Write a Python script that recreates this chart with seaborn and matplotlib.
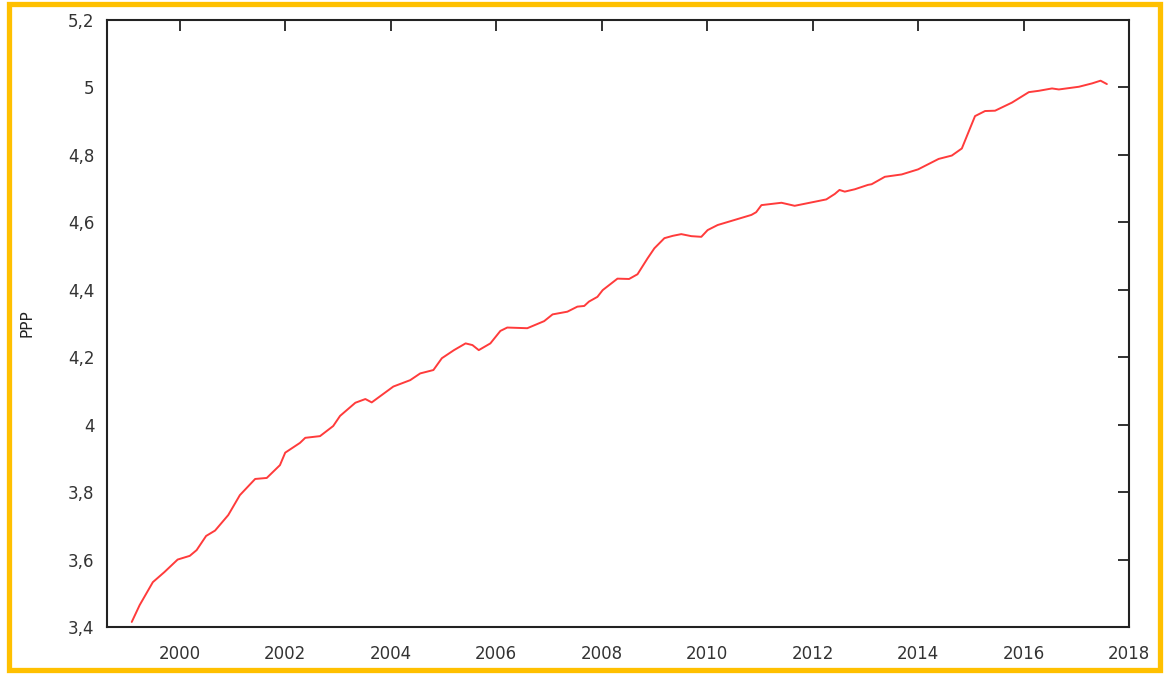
import matplotlib
matplotlib.use("Agg")
import matplotlib.pyplot as plt
import matplotlib.patches as patches
from matplotlib.ticker import FuncFormatter, MultipleLocator
import seaborn as sns
import pandas as pd

# PPP values
years = [1999.09, 1999.24, 1999.49, 1999.71, 1999.96, 2000.19, 2000.32, 2000.50,
         2000.67, 2000.92, 2001.14, 2001.43, 2001.65, 2001.90, 2002.00, 2002.28,
         2002.38, 2002.66, 2002.91, 2003.04, 2003.33, 2003.52, 2003.64, 2004.05,
         2004.37, 2004.56, 2004.81, 2004.97, 2005.20, 2005.42, 2005.55, 2005.67,
         2005.89, 2006.08, 2006.21, 2006.59, 2006.91, 2007.07, 2007.35, 2007.54,
         2007.67, 2007.76, 2007.92, 2008.02, 2008.30, 2008.52, 2008.68, 2008.87,
         2009.00, 2009.19, 2009.35, 2009.51, 2009.70, 2009.89, 2010.01, 2010.20,
         2010.52, 2010.84, 2010.93, 2011.03, 2011.41, 2011.66, 2012.04, 2012.26,
         2012.42, 2012.51, 2012.61, 2012.80, 2013.05, 2013.12, 2013.37, 2013.69,
         2014.00, 2014.39, 2014.64, 2014.83, 2014.96, 2015.08, 2015.27, 2015.46,
         2015.78, 2016.10, 2016.29, 2016.54, 2016.67, 2017.05, 2017.30, 2017.46,
         2017.58]
ppp = [3.415, 3.465, 3.533, 3.563, 3.600, 3.611, 3.628, 3.670,
       3.686, 3.732, 3.791, 3.839, 3.842, 3.880, 3.917, 3.946,
       3.961, 3.966, 3.996, 4.026, 4.065, 4.076, 4.066, 4.113,
       4.132, 4.152, 4.162, 4.197, 4.221, 4.241, 4.236, 4.221,
       4.241, 4.278, 4.288, 4.286, 4.307, 4.327, 4.335, 4.350,
       4.352, 4.365, 4.379, 4.399, 4.433, 4.432, 4.446, 4.493,
       4.523, 4.553, 4.560, 4.565, 4.559, 4.557, 4.577, 4.592,
       4.607, 4.622, 4.630, 4.651, 4.658, 4.649, 4.661, 4.668,
       4.684, 4.696, 4.691, 4.698, 4.711, 4.713, 4.735, 4.742,
       4.757, 4.788, 4.798, 4.819, 4.869, 4.915, 4.930, 4.931,
       4.955, 4.986, 4.990, 4.997, 4.994, 5.002, 5.012, 5.020,
       5.010]

df = pd.DataFrame({"year": years, "PPP": ppp})

sns.set_style("white")
plt.rcParams["font.family"] = ["DejaVu Sans"]

fig = plt.figure(figsize=(11.69, 6.75), dpi=100)
ax = fig.add_axes([0.0915, 0.0711, 0.8743, 0.8993])

sns.lineplot(data=df, x="year", y="PPP", ax=ax, color="#ff3b3b", linewidth=1.4)

ax.set_xlim(1998.62, 2018.0)
ax.set_ylim(3.4, 5.2)
ax.xaxis.set_major_locator(MultipleLocator(2))
ax.yaxis.set_major_locator(MultipleLocator(0.2))
ax.xaxis.set_major_formatter(FuncFormatter(lambda v, p: f"{v:.0f}"))
ax.yaxis.set_major_formatter(FuncFormatter(lambda v, p: f"{round(v, 1):g}".replace(".", ",")))

ax.set_xlabel("")
ax.set_ylabel("PPP", fontsize=11, color="#222222", labelpad=24)

ax.tick_params(axis="both", direction="in", length=8, width=1.3, colors="#222222",
               labelsize=12, labelcolor="#333333", top=True, right=True)
ax.tick_params(axis="x", pad=13)
ax.tick_params(axis="y", pad=9)
for sp in ax.spines.values():
    sp.set_color("#222222")
    sp.set_linewidth(1.5)

# orange frame around the whole picture
fig.patches.append(patches.Rectangle((9 / 1169, 5 / 675), 1151 / 1169, 666 / 675,
                                     transform=fig.transFigure, fill=False,
                                     edgecolor="#ffc000", linewidth=3.8, zorder=10))

fig.savefig("out.png", dpi=100)
